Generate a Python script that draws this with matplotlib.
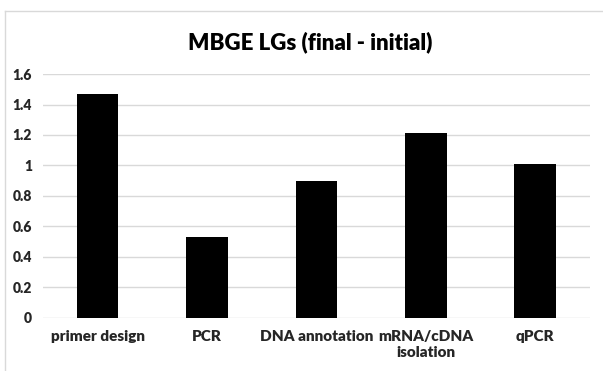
import matplotlib.pyplot as plt
import numpy as np
from matplotlib.lines import Line2D

# data
categories = ['primer design', 'PCR', 'DNA annotation', 'mRNA/cDNA\nisolation', 'qPCR']
values = [1.47, 0.53, 0.90, 1.21, 1.01]
yticks = [0, 0.2, 0.4, 0.6, 0.8, 1.0, 1.2, 1.4, 1.6]
ytick_labels = ['0', '0.2', '0.4', '0.6', '0.8', '1', '1.2', '1.4', '1.6']

plt.rcParams['font.family'] = ['Lato', 'DejaVu Sans']

fig = plt.figure(figsize=(6.03, 3.71), dpi=100)
ax = fig.add_axes([0.0713, 0.143, 0.907, 0.6575])

x = np.arange(len(categories))
ax.bar(x, values, width=0.38, color='black', zorder=3)

ax.set_xlim(-0.5, len(categories) - 0.5)
ax.set_ylim(0, 1.6)
ax.set_yticks(yticks)
ax.set_yticklabels(ytick_labels, fontsize=10, fontweight='heavy', color='#262626')
ax.set_xticks(x)
ax.set_xticklabels(categories, fontsize=11, fontweight='heavy', color='#262626',
                   linespacing=1.2)
ax.tick_params(axis='both', length=0)
ax.tick_params(axis='y', pad=8)
ax.tick_params(axis='x', pad=9)
ax.grid(axis='y', color='#d9d9d9', linewidth=1, zorder=0)
for s in ax.spines.values():
    s.set_visible(False)

fig.text(0.514, 0.887, 'MBGE LGs (final - initial)', ha='center', va='center',
         fontsize=16, fontweight='heavy', color='black')

# chart frame (left and top edges visible)
fig.add_artist(Line2D([5 / 603, 5 / 603], [0, 1 - 11 / 371], color='#d9d9d9', linewidth=1))
fig.add_artist(Line2D([5 / 603, 1], [1 - 11 / 371, 1 - 11 / 371], color='#d9d9d9', linewidth=1))

fig.savefig('out.png', dpi=100)
